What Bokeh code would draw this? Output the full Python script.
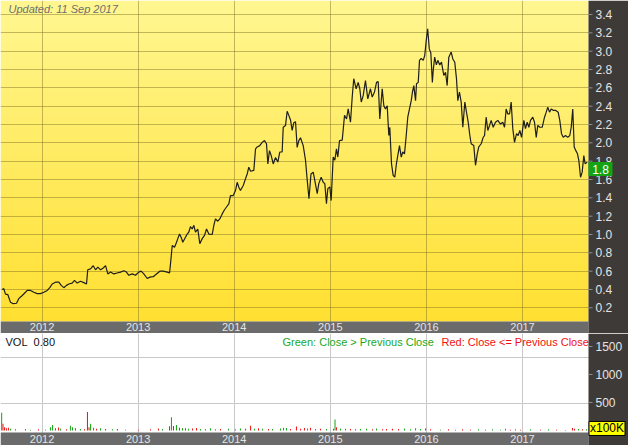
import numpy as np
from bokeh.plotting import figure
from bokeh.models import Range1d, FixedTicker, Grid
from bokeh.layouts import column
from bokeh.embed import file_html
from bokeh.resources import INLINE
from bokeh.core.properties import value

# ---------------- data ----------------
price_t = [
    2011.586, 2011.602, 2011.620, 2011.644, 2011.672, 2011.700, 2011.735, 2011.758, 2011.794, 2011.828,
    2011.846, 2011.880, 2011.915, 2011.950, 2011.984, 2012.019, 2012.054, 2012.081, 2012.106, 2012.140,
    2012.175, 2012.200, 2012.227, 2012.255, 2012.279, 2012.314, 2012.338, 2012.366, 2012.401, 2012.435,
    2012.463, 2012.476, 2012.505, 2012.533, 2012.557, 2012.581, 2012.609, 2012.637, 2012.661, 2012.685,
    2012.713, 2012.747, 2012.782, 2012.817, 2012.851, 2012.879, 2012.903, 2012.939, 2012.973, 2013.007,
    2013.032, 2013.059, 2013.095, 2013.122, 2013.157, 2013.191, 2013.226, 2013.261, 2013.303, 2013.327,
    2013.337, 2013.355, 2013.379, 2013.400, 2013.413, 2013.431, 2013.448, 2013.465, 2013.493, 2013.511,
    2013.527, 2013.545, 2013.563, 2013.580, 2013.597, 2013.621, 2013.642, 2013.667, 2013.691, 2013.712,
    2013.736, 2013.771, 2013.788, 2013.805, 2013.829, 2013.850, 2013.875, 2013.899, 2013.920, 2013.944,
    2013.961, 2013.990, 2014.013, 2014.031, 2014.048, 2014.065, 2014.094, 2014.118, 2014.135, 2014.152,
    2014.170, 2014.204, 2014.222, 2014.239, 2014.266, 2014.291, 2014.315, 2014.336, 2014.350, 2014.367,
    2014.385, 2014.406, 2014.430, 2014.454, 2014.474, 2014.499, 2014.510, 2014.534, 2014.551, 2014.568,
    2014.586, 2014.603, 2014.620, 2014.638, 2014.655, 2014.672, 2014.690, 2014.718, 2014.742, 2014.760,
    2014.778, 2014.799, 2014.822, 2014.836, 2014.864, 2014.880, 2014.905, 2014.926, 2014.943, 2014.960,
    2014.974, 2014.995, 2015.009, 2015.030, 2015.047, 2015.064, 2015.078, 2015.096, 2015.124, 2015.148,
    2015.169, 2015.186, 2015.210, 2015.228, 2015.244, 2015.269, 2015.290, 2015.307, 2015.322, 2015.342,
    2015.366, 2015.390, 2015.418, 2015.436, 2015.460, 2015.481, 2015.498, 2015.515, 2015.540, 2015.557,
    2015.574, 2015.592, 2015.609, 2015.619, 2015.637, 2015.654, 2015.671, 2015.689, 2015.702, 2015.720,
    2015.738, 2015.754, 2015.772, 2015.790, 2015.806, 2015.824, 2015.842, 2015.855, 2015.869, 2015.887,
    2015.897, 2015.915, 2015.928, 2015.946, 2015.967, 2015.983, 2015.998, 2016.013, 2016.030, 2016.046,
    2016.062, 2016.071, 2016.086, 2016.104, 2016.119, 2016.139, 2016.157, 2016.181, 2016.199, 2016.216,
    2016.233, 2016.258, 2016.275, 2016.295, 2016.313, 2016.327, 2016.344, 2016.362, 2016.379, 2016.400,
    2016.417, 2016.435, 2016.452, 2016.466, 2016.493, 2016.511, 2016.529, 2016.545, 2016.570, 2016.591,
    2016.605, 2016.622, 2016.639, 2016.657, 2016.674, 2016.695, 2016.719, 2016.743, 2016.771, 2016.795,
    2016.813, 2016.830, 2016.847, 2016.865, 2016.882, 2016.899, 2016.917, 2016.938, 2016.955, 2016.972,
    2016.990, 2017.014, 2017.031, 2017.049, 2017.066, 2017.083, 2017.107, 2017.125, 2017.143, 2017.159,
    2017.180, 2017.205, 2017.229, 2017.247, 2017.263, 2017.281, 2017.299, 2017.319, 2017.343, 2017.371,
    2017.388, 2017.406, 2017.424, 2017.447, 2017.471, 2017.492, 2017.507, 2017.523, 2017.538, 2017.555,
    2017.572, 2017.586, 2017.604, 2017.621, 2017.638, 2017.652, 2017.673,
]
price_v = [
    0.40, 0.41, 0.35, 0.345, 0.26, 0.245, 0.25, 0.30, 0.335, 0.37,
    0.39, 0.39, 0.37, 0.355, 0.355, 0.37, 0.39, 0.42, 0.46, 0.48,
    0.48, 0.445, 0.42, 0.445, 0.46, 0.47, 0.50, 0.47, 0.49, 0.475,
    0.46, 0.615, 0.625, 0.66, 0.615, 0.645, 0.615, 0.635, 0.66, 0.57,
    0.59, 0.57, 0.58, 0.59, 0.605, 0.59, 0.555, 0.57, 0.555, 0.59,
    0.60, 0.57, 0.52, 0.535, 0.54, 0.57, 0.60, 0.60, 0.59, 0.58,
    0.68, 0.88, 0.86, 0.915, 0.955, 1.005, 0.97, 0.915, 0.97, 1.005,
    1.025, 1.085, 1.06, 1.10, 1.025, 1.06, 0.90, 0.955, 0.99, 1.06,
    1.005, 1.0, 1.10, 1.17, 1.145, 1.17, 1.225, 1.27, 1.30, 1.335,
    1.425, 1.425, 1.48, 1.57, 1.515, 1.48, 1.535, 1.61, 1.66, 1.735,
    1.69, 1.70, 1.935, 1.955, 1.97, 2.005, 2.025, 1.99, 1.77, 1.915,
    1.86, 1.77, 1.84, 1.79, 1.90, 1.90, 2.17, 2.19, 2.345, 2.30,
    2.25, 2.135, 2.22, 2.23, 1.95, 2.025, 2.055, 1.97, 1.81, 1.59,
    1.39, 1.66, 1.68, 1.605, 1.445, 1.555, 1.625, 1.57, 1.555, 1.335,
    1.50, 1.52, 1.37, 1.845, 1.81, 1.935, 1.845, 2.025, 2.03, 2.30,
    2.26, 2.37, 2.225, 2.50, 2.70, 2.59, 2.66, 2.59, 2.445, 2.515,
    2.68, 2.48, 2.59, 2.50, 2.555, 2.66, 2.67, 2.26, 2.59, 2.405,
    2.37, 2.405, 2.08, 2.17, 1.77, 1.645, 1.625, 1.78, 1.86, 1.97,
    1.845, 1.90, 1.88, 2.08, 2.28, 2.37, 2.46, 2.555, 2.625, 2.46,
    2.645, 2.66, 2.90, 2.92, 2.90, 2.955, 3.115, 3.245, 3.025, 2.98,
    2.66, 2.79, 2.935, 2.85, 2.90, 2.85, 2.88, 2.735, 2.77, 2.625,
    2.935, 2.99, 2.915, 2.88, 2.70, 2.46, 2.555, 2.445, 2.17, 2.445,
    2.335, 2.225, 2.08, 1.99, 1.97, 1.755, 1.88, 1.955, 1.99, 2.06,
    2.08, 2.28, 2.135, 2.19, 2.245, 2.17, 2.225, 2.245, 2.205, 2.225,
    2.17, 2.37, 2.315, 2.315, 2.445, 2.155, 2.005, 2.10, 2.08, 2.135,
    2.06, 2.245, 2.155, 2.225, 2.17, 2.245, 2.28, 2.225, 2.06, 2.19,
    2.17, 2.17, 2.28, 2.335, 2.39, 2.335, 2.37, 2.355, 2.355, 2.335,
    2.245, 2.10, 2.06, 2.08, 2.06, 2.08, 2.17, 2.37, 1.955, 1.915,
    1.88, 1.81, 1.625, 1.68, 1.86, 1.77, 1.79,
]

vol_t = [
    2011.580, 2011.594, 2011.610, 2011.630, 2011.651, 2011.672, 2011.724, 2011.828, 2011.880, 2011.963,
    2012.036, 2012.088, 2012.109, 2012.140, 2012.172, 2012.192, 2012.255, 2012.296, 2012.317, 2012.348,
    2012.400, 2012.442, 2012.473, 2012.489, 2012.505, 2012.536, 2012.567, 2012.609, 2012.661, 2012.733,
    2012.785, 2012.869, 2013.004, 2013.129, 2013.212, 2013.254, 2013.327, 2013.347, 2013.368, 2013.399,
    2013.431, 2013.462, 2013.493, 2013.524, 2013.566, 2013.608, 2013.649, 2013.701, 2013.753, 2013.805,
    2013.857, 2013.941, 2014.013, 2014.065, 2014.118, 2014.170, 2014.211, 2014.253, 2014.294, 2014.357,
    2014.398, 2014.482, 2014.513, 2014.544, 2014.586, 2014.648, 2014.690, 2014.731, 2014.763, 2014.794,
    2014.846, 2014.898, 2014.960, 2015.033, 2015.049, 2015.064, 2015.106, 2015.158, 2015.210, 2015.262,
    2015.314, 2015.377, 2015.439, 2015.481, 2015.543, 2015.585, 2015.647, 2015.710, 2015.772, 2015.835,
    2015.887, 2015.939, 2015.991, 2016.043, 2016.147, 2016.230, 2016.303, 2016.376, 2016.459, 2016.542,
    2016.615, 2016.688, 2016.771, 2016.823, 2016.875, 2016.927, 2016.980, 2017.083, 2017.187, 2017.270,
    2017.354, 2017.447, 2017.520, 2017.541, 2017.583, 2017.624, 2017.666,
]
vol_v = [
    315, 120, 60, 40, 50, 30, 20, 25, 15, 20,
    15, 60, 100, 40, 55, 30, 20, 85, 60, 40,
    25, 20, 330, 60, 120, 50, 30, 40, 25, 20,
    25, 15, 15, 20, 35, 25, 75, 235, 80, 100,
    50, 45, 40, 30, 35, 45, 25, 20, 40, 20,
    25, 30, 20, 35, 30, 85, 30, 40, 30, 25,
    25, 35, 50, 45, 25, 70, 30, 45, 35, 50,
    25, 30, 25, 30, 195, 60, 35, 30, 25, 20,
    25, 30, 20, 35, 20, 25, 30, 25, 35, 20,
    40, 25, 35, 20, 15, 20, 15, 20, 15, 20,
    15, 20, 15, 30, 15, 20, 15, 20, 15, 20,
    15, 10, 45, 30, 25, 20, 20,
]
vol_up = [
    1, 0, 0, 0, 0, 1, 0, 1, 1, 0,
    1, 1, 1, 0, 0, 1, 0, 1, 1, 0,
    1, 0, 0, 0, 1, 1, 0, 1, 0, 1,
    0, 1, 0, 0, 0, 1, 0, 1, 0, 1,
    0, 1, 0, 1, 0, 0, 1, 0, 1, 1,
    0, 1, 1, 1, 0, 0, 1, 0, 1, 0,
    1, 1, 1, 1, 0, 0, 0, 0, 1, 0,
    1, 0, 1, 0, 1, 0, 1, 1, 0, 0,
    1, 1, 0, 1, 0, 0, 0, 0, 1, 1,
    1, 1, 0, 0, 1, 0, 1, 0, 0, 1,
    0, 1, 1, 1, 0, 1, 0, 1, 0, 1,
    0, 1, 0, 0, 1, 0, 1,
]

years = [2012, 2013, 2014, 2015, 2016, 2017]
year_labels = ["2012", "2013", "2014", "2015", "2016", "2017"]
price_ticks = [0.2, 0.4, 0.6, 0.8, 1.0, 1.2, 1.4, 1.6, 1.8, 2.0, 2.2, 2.4, 2.6, 2.8, 3.0, 3.2, 3.4]
price_tick_labels = ["0.2", "0.4", "0.6", "0.8", "1.0", "1.2", "1.4", "1.6", "1.8",
                     "2.0", "2.2", "2.4", "2.6", "2.8", "3.0", "3.2", "3.4"]
vol_ticks = [500, 1000, 1500]
vol_tick_labels = ["500", "1000", "1500"]
updated_text = "Updated: 11 Sep 2017"
last_price_text = "1.8"
vol_title = "VOL\u00a0\u00a00.80"
legend_up = "Green: Close > Previous Close"
legend_down = "Red: Close <= Previous Close"
vol_unit = "x100K"

# ---------------- layout constants (pixels of the 628 x 445 picture) ----------------
W, H1, H2 = 628, 333, 112
X0, XR = 2011.568, 2018.103          # data x at the left and right canvas edges
DX = (XR - X0) / W                   # data per pixel (x)
X1 = X0 + 588 * DX                   # right edge of the chart area / start of the dark panel
P_BOT, P_TOP = -0.080, 3.553
DYP = (P_TOP - P_BOT) / H1
P_BAND = P_BOT + 12 * DYP            # top of the date band
V_BOT, V_TOP = -268, 1732
DYV = (V_TOP - V_BOT) / H2
V_BAND = V_BOT + 13 * DYV
VOL_GRID_PX = [24, 70]               # volume panel guide lines, px below the panel top
DARK = "#3e3a38"
BAND = "#6b6b6b"
AXTXT = "#e4e4e4"
FONT = "Liberation Sans"


def base_fig(h, yr):
    f = figure(width=W, height=h, x_range=Range1d(X0, XR), y_range=yr,
               output_backend="svg", toolbar_location=None,
               x_axis_location=None, y_axis_location=None,
               min_border=0, min_border_left=0, min_border_right=0,
               min_border_top=0, min_border_bottom=0)
    f.outline_line_color = None
    f.border_fill_color = DARK
    f.xgrid.visible = False
    f.ygrid.visible = False
    return f


# ---------------- price panel ----------------
p = base_fig(H1, Range1d(P_BOT, P_TOP))

n = 300
frac = np.linspace(0.0, 1.0, n)[:, None]
img = np.empty((n, 1), dtype=np.uint32)
view = img.view(dtype=np.uint8).reshape((n, 1, 4))
view[:, :, 0] = 255
view[:, :, 1] = (224 + (247 - 224) * frac).astype(np.uint8)
view[:, :, 2] = (50 + (145 - 50) * frac).astype(np.uint8)
view[:, :, 3] = 255
bg = p.image_rgba(image=[img], x=X0, y=P_BAND, dw=X1 - X0, dh=P_TOP - P_BAND)
bg.level = "image"

p.add_layout(Grid(dimension=0, ticker=FixedTicker(ticks=years),
                  grid_line_color="#7a6a20", grid_line_alpha=0.45))
p.add_layout(Grid(dimension=1, ticker=FixedTicker(ticks=price_ticks),
                  grid_line_color="#7a6a20", grid_line_alpha=0.45))

p.line(price_t, price_v, line_color="#1e1e1e", line_width=1.2)

# date band
p.quad(left=X0, right=X1, bottom=P_BOT, top=P_BAND, fill_color=BAND, line_color=None)
p.text(x=years, y=[P_BOT + 6.5 * DYP] * len(years), text=year_labels,
       text_align="center", text_baseline="middle", text_color=AXTXT,
       text_font=value(FONT), text_font_size="11px")

# updated note
p.text(x=[X0 + 8 * DX], y=[P_TOP - 2 * DYP], text=[updated_text], text_baseline="top",
       text_color="#6e6e6e", text_font=value(FONT), text_font_size="11px",
       text_font_style="italic")

# right dark value panel
p.quad(left=X1, right=XR, bottom=P_BOT, top=P_TOP, fill_color=DARK, line_color=None)
p.segment(x0=[X1] * len(price_ticks), x1=[X1 + 4 * DX] * len(price_ticks),
          y0=price_ticks, y1=price_ticks, line_color="#8c8c8c", line_width=1)
p.text(x=[X1 + 7 * DX] * len(price_ticks), y=price_ticks, text=price_tick_labels,
       text_baseline="middle", text_color=AXTXT, text_font=value(FONT),
       text_font_size="12px")

# last price badge
badge_y = price_v[-1] - 7 * DYP
p.rect(x=[X1 + 12 * DX], y=[badge_y], width=24, height=14, width_units="screen",
       height_units="screen", fill_color="#13a313", line_color=None)
p.text(x=[X1 + 12 * DX], y=[badge_y], text=[last_price_text], text_align="center",
       text_baseline="middle", text_color="white", text_font=value(FONT),
       text_font_size="12px")

# ---------------- volume panel ----------------
q = base_fig(H2, Range1d(V_BOT, V_TOP))
q.background_fill_color = "white"
q.add_layout(Grid(dimension=0, ticker=FixedTicker(ticks=years), grid_line_color="#c8c8c8"))
q.add_layout(Grid(dimension=1, ticker=FixedTicker(ticks=[V_TOP - k * DYV for k in VOL_GRID_PX]),
                  grid_line_color="#c8c8c8"))

colors = ["#1ca81c" if u else "#ee1c1c" for u in vol_up]
q.vbar(x=vol_t, top=vol_v, bottom=0, width=0.011, fill_color=colors, line_color=None)

q.quad(left=X0, right=X1, bottom=V_BOT, top=V_BAND, fill_color=BAND, line_color=None)
q.text(x=years, y=[V_BOT + 7 * DYV] * len(years), text=year_labels,
       text_align="center", text_baseline="middle", text_color=AXTXT,
       text_font=value(FONT), text_font_size="11px")

y_leg = V_TOP - 8 * DYV
q.text(x=[X0 + 5 * DX], y=[y_leg], text=[vol_title], text_baseline="middle",
       text_color="#111111", text_font=value(FONT), text_font_size="11px")
q.text(x=[X0 + 282 * DX], y=[y_leg], text=[legend_up], text_baseline="middle",
       text_color="#1ca81c", text_font=value(FONT), text_font_size="11px")
q.text(x=[X0 + 441 * DX], y=[y_leg], text=[legend_down], text_baseline="middle",
       text_color="#f01010", text_font=value(FONT), text_font_size="11px")

q.quad(left=X1, right=XR, bottom=V_BOT, top=V_TOP, fill_color=DARK, line_color=None)
q.segment(x0=[X1] * len(vol_ticks), x1=[X1 + 4 * DX] * len(vol_ticks),
          y0=vol_ticks, y1=vol_ticks, line_color="#8c8c8c", line_width=1)
q.text(x=[X1 + 7 * DX] * len(vol_ticks), y=vol_ticks, text=vol_tick_labels,
       text_baseline="middle", text_color=AXTXT, text_font=value(FONT),
       text_font_size="12px")

unit_y = 36
q.rect(x=[X1 + 18.5 * DX], y=[unit_y], width=36, height=14, width_units="screen",
       height_units="screen", fill_color="#ffff00", line_color="black", line_width=1)
q.text(x=[X1 + 18.5 * DX], y=[unit_y], text=[vol_unit], text_align="center",
       text_baseline="middle", text_color="black", text_font=value(FONT),
       text_font_size="12px")

layout = column(p, q, spacing=0)
open("out.html", "w").write(file_html(layout, INLINE))
